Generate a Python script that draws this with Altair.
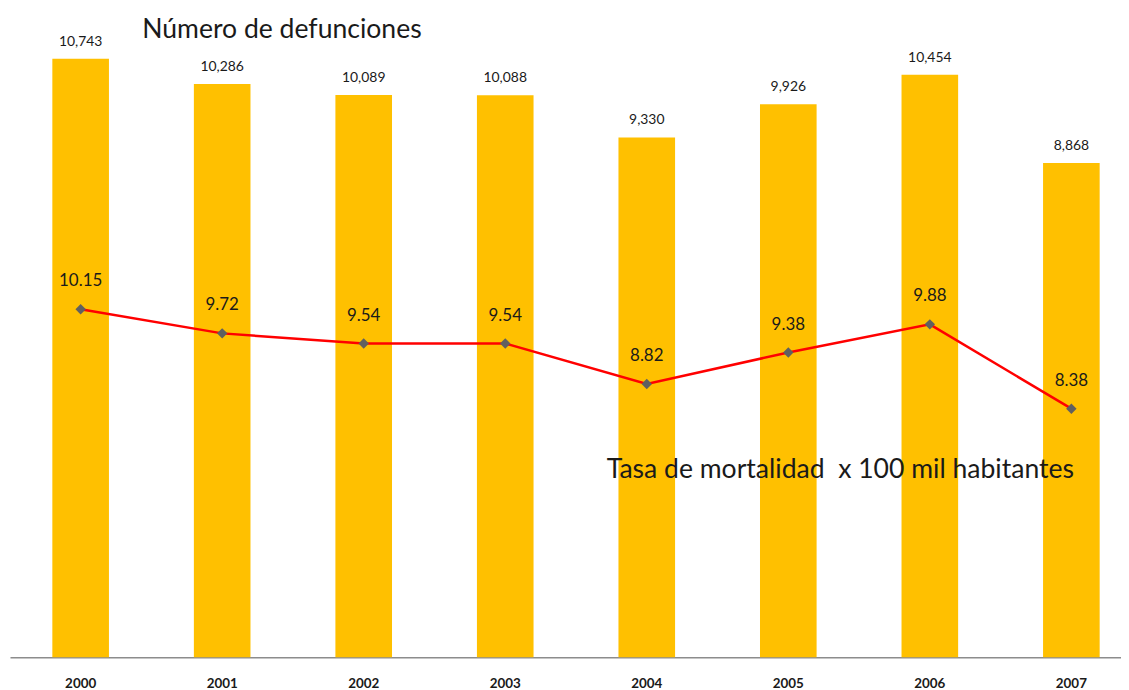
import altair as alt
import pandas as pd

years = ["2000", "2001", "2002", "2003", "2004", "2005", "2006", "2007"]
defunciones = [10743, 10286, 10089, 10088, 9330, 9926, 10454, 8868]
tasa = [10.15, 9.72, 9.54, 9.54, 8.82, 9.38, 9.88, 8.38]

df = pd.DataFrame({"year": years, "def": defunciones, "tasa": tasa})

FONT = "Lato"
W, H = 1117, 641

x = alt.X("year:N", sort=years, title=None,
          scale=alt.Scale(paddingInner=0.6, paddingOuter=0.225, align=0.665),
          axis=alt.Axis(labelAngle=0, ticks=False, labelPadding=26, labelFontSize=13.5,
                        labelBaseline="middle",
                        labelFont=FONT, labelColor="#1a1a1a", labelFontWeight="bold",
                        domainColor="#8c8c8c", domainWidth=1.5, grid=False))

ybar = alt.Y("def:Q", scale=alt.Scale(domain=[0, 11440], nice=False, zero=True), axis=None)
yline = alt.Y("tasa:Q", scale=alt.Scale(domain=[3.955, 15.30], nice=False, zero=False), axis=None)

base = alt.Chart(df)

bars = base.mark_bar(color="#FFC000").encode(x=x, y=ybar)
bar_labels = base.mark_text(dy=-17, fontSize=14, font=FONT, color="#1a1a1a", baseline="middle").encode(
    x=x, y=ybar, text=alt.Text("def:Q", format=",d"))

bar_layer = alt.layer(bars, bar_labels)

line = base.mark_line(color="#FF0000", strokeWidth=2.5).encode(x=x, y=yline)
pts = base.mark_point(shape="diamond", filled=True, size=110, color="#606060", opacity=1).encode(x=x, y=yline)
line_labels = base.mark_text(dy=-28, fontSize=17, font=FONT, color="#1a1a1a", baseline="middle").encode(
    x=x, y=yline, text=alt.Text("tasa:Q", format=".2f"))

line_layer = alt.layer(line, pts, line_labels)

title1 = alt.Chart(pd.DataFrame({"t": ["Número de defunciones"]})).mark_text(
    align="left", baseline="middle", fontSize=26.7, font=FONT, color="#1a1a1a").encode(
    x=alt.value(133), y=alt.value(10), text="t:N")
title2 = alt.Chart(pd.DataFrame({"t": ["Tasa de mortalidad\u00a0 x 100 mil habitantes"]})).mark_text(
    align="left", baseline="middle", fontSize=26.7, font=FONT, color="#1a1a1a").encode(
    x=alt.value(600), y=alt.value(453), text="t:N")

chart = alt.layer(bar_layer, line_layer, title1, title2).resolve_scale(y="independent").properties(
    width=W, height=H,
    padding={"left": 2, "top": 10, "right": 0, "bottom": 34},
    autosize=alt.AutoSizeParams(type="none"),
).configure_view(stroke=None)

chart.save("out.html", embed_options={"renderer": "svg", "actions": False})
